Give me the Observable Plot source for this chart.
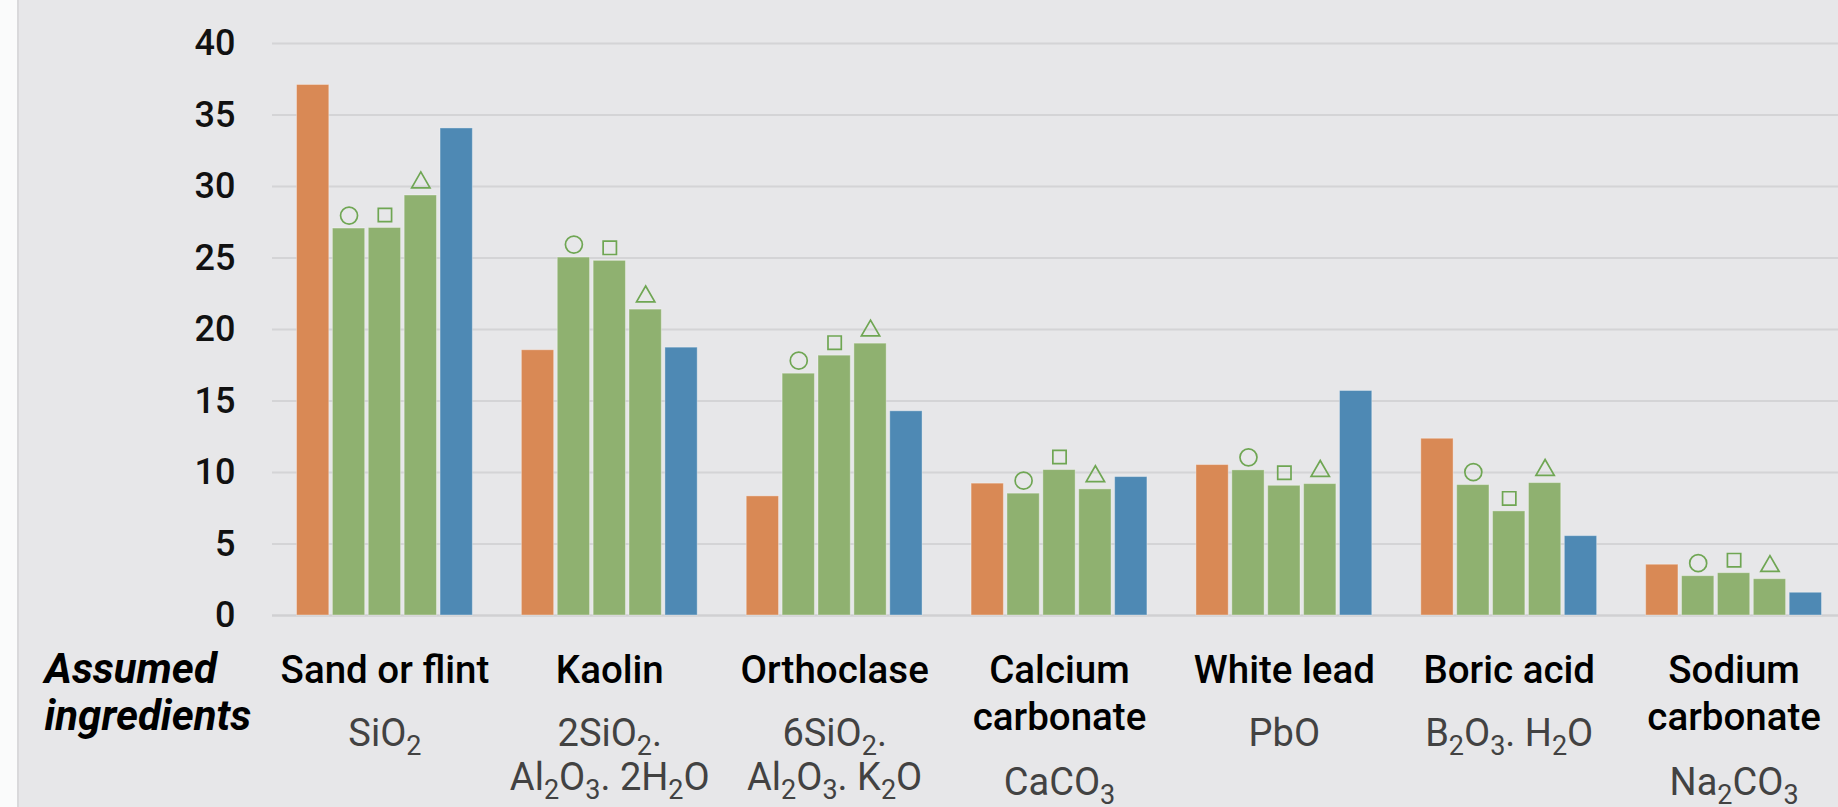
<!DOCTYPE html>
<html>
<head>
<meta charset="utf-8">
<script src="https://cdn.jsdelivr.net/npm/d3@7"></script>
<script src="https://cdn.jsdelivr.net/npm/@observablehq/plot@0.6"></script>
<style>
  html, body { margin: 0; padding: 0; overflow: hidden; background: #fafbfb; }
  #wrap { position: relative; width: 1838px; height: 807px; overflow: hidden; background: #fafbfb; }
  #bg { position: absolute; left: 17px; top: 0; right: 0; bottom: 0; background: #e7e7e9; border-left: 2px solid #d9d9db; }
  .layer { position: absolute; left: 0; top: 0; }
</style>
</head>
<body>
<div id="wrap"><div id="bg"></div><div id="back" class="layer"></div><div id="front" class="layer"></div></div>
<script>
// ---- data ----
const categories = ["Sand or flint", "Kaolin", "Orthoclase", "Calcium carbonate", "White lead", "Boric acid", "Sodium carbonate"];
const nameLines = [["Sand or flint"], ["Kaolin"], ["Orthoclase"], ["Calcium", "carbonate"], ["White lead"], ["Boric acid"], ["Sodium", "carbonate"]];
const formulaLines = [["SiO2"], ["2SiO2.", "Al2O3. 2H2O"], ["6SiO2.", "Al2O3. K2O"], ["CaCO3"], ["PbO"], ["B2O3. H2O"], ["Na2CO3"]];
const series = ["Assumed", "Glaze ○", "Glaze □", "Glaze △", "Measured"];
const assumedValues  = [37.1, 18.55, 8.33, 9.22, 10.52, 12.36, 3.55];
const circleValues   = [27.06, 25.03, 16.91, 8.52, 10.15, 9.12, 2.75];
const squareValues   = [27.1, 24.8, 18.17, 10.17, 9.07, 7.28, 2.96];
const triangleValues = [29.37, 21.39, 19.01, 8.82, 9.19, 9.26, 2.54];
const measuredValues = [34.06, 18.73, 14.28, 9.68, 15.7, 5.55, 1.59];
const yTicks = [0, 5, 10, 15, 20, 25, 30, 35, 40];
const sideLabel = ["Assumed", "ingredients"];

// ---- styling ----
const colors = ["#d98955", "#8fb170", "#8fb170", "#8fb170", "#4e89b4"];
const markerColor = "#6fa653";
const FONT = "Roboto, 'Open Sans', 'DejaVu Sans', sans-serif";

const valueSets = [assumedValues, circleValues, squareValues, triangleValues, measuredValues];
const rows = [];
categories.forEach((c, i) => series.forEach((s, j) => rows.push({category: c, series: s, value: valueSets[j][i]})));

const common = {
  width: 1846,
  height: 807,
  marginLeft: 272,
  marginRight: 0,
  marginTop: 43,
  marginBottom: 192,
  style: {background: "transparent", maxWidth: "none", overflow: "visible", fontFamily: FONT},
  y: {domain: [0, 40], axis: null}
};

// background layer: grid, y tick labels, side label
const back = Plot.plot({
  ...common,
  x: {axis: null},
  marks: [
    Plot.ruleY(yTicks.filter(d => d > 0), {stroke: "#d4d4d6", strokeWidth: 2}),
    Plot.ruleY([0], {stroke: "#d0d0d2", strokeWidth: 2.5}),
    Plot.text(yTicks, {y: d => d, text: d => String(d), frameAnchor: "left", dx: -37, textAnchor: "end", fontSize: 36, fontWeight: 500, fill: "#111", fontFamily: FONT}),
    Plot.text(sideLabel.slice(0, 1), {text: d => d, frameAnchor: "bottom-left", textAnchor: "start", lineAnchor: "bottom", dx: -228, dy: 67, fontSize: 42, fontWeight: 700, fontStyle: "italic", fill: "#000", fontFamily: FONT}),
    Plot.text(sideLabel.slice(1), {text: d => d, frameAnchor: "bottom-left", textAnchor: "start", lineAnchor: "bottom", dx: -228, dy: 114, fontSize: 42, fontWeight: 700, fontStyle: "italic", fill: "#000", fontFamily: FONT})
  ]
});
document.getElementById("back").appendChild(back);

// label rows grouped by vertical offset
const labelGroups = new Map();
function addLabel(dy, row) {
  if (!labelGroups.has(dy)) labelGroups.set(dy, []);
  labelGroups.get(dy).push(row);
}
categories.forEach((c, i) => {
  nameLines[i].forEach((t, k) => addLabel(67 + 47 * k, {category: c, text: t, kind: "name"}));
  const start = nameLines[i].length === 1 ? 130 : 179;
  formulaLines[i].forEach((t, k) => addLabel(start + 44 * k, {category: c, text: t, kind: "formula"}));
});
const labelMarks = [];
for (const [dy, data] of labelGroups) {
  const names = data.filter(d => d.kind === "name");
  const forms = data.filter(d => d.kind === "formula");
  if (names.length) labelMarks.push(Plot.text(names, {fx: "category", text: "text", frameAnchor: "bottom", lineAnchor: "bottom", dy, fontSize: 38.5, fontWeight: 500, fill: "#000", fontFamily: FONT}));
  if (forms.length) labelMarks.push(Plot.text(forms, {fx: "category", text: "text", frameAnchor: "bottom", lineAnchor: "bottom", dy, fontSize: 38, fontWeight: 400, fill: "#424242", fontFamily: FONT}));
}

const markerSpec = [[series[1], "circle", 8.5], [series[2], "square", 7.5], [series[3], "triangle", 6.8]];

// foreground layer: grouped bars (faceted by ingredient)
const front = Plot.plot({
  ...common,
  fx: {domain: categories, paddingInner: 0.218, paddingOuter: 0.109, round: false, axis: null, label: null},
  x: {domain: series, paddingInner: 0.1, paddingOuter: 0, round: false, axis: null},
  color: {domain: series, range: colors},
  marks: [
    Plot.barY(rows, {fx: "category", x: "series", y: "value", fill: "series", stroke: "#ffffff", strokeOpacity: 0.35, strokeWidth: 1}),
    ...markerSpec.map(([s, sym, r]) => Plot.dot(rows.filter(d => d.series === s), {fx: "category", x: "series", y: "value", symbol: sym, r, dy: -13, stroke: markerColor, strokeWidth: 1.7, fill: "none"})),
    ...labelMarks
  ]
});
document.getElementById("front").appendChild(front);

// chemical subscripts: digits directly after a letter become subscripts
const formulaSet = new Set(formulaLines.flat());
front.querySelectorAll("text").forEach(t => {
  const s = t.textContent;
  if (!formulaSet.has(s)) return;
  while (t.firstChild) t.removeChild(t.firstChild);
  let prevSub = false;
  for (let i = 0; i < s.length; i++) {
    const ch = s[i];
    const isSub = /[0-9]/.test(ch) && i > 0 && /[A-Za-z)]/.test(s[i - 1]);
    const ts = document.createElementNS("http://www.w3.org/2000/svg", "tspan");
    ts.textContent = ch;
    if (isSub) {
      ts.setAttribute("font-size", "27");
      if (!prevSub) ts.setAttribute("dy", "9");
    } else if (prevSub) {
      ts.setAttribute("dy", "-9");
    }
    prevSub = isSub;
    t.appendChild(ts);
  }
});
</script>
</body>
</html>
